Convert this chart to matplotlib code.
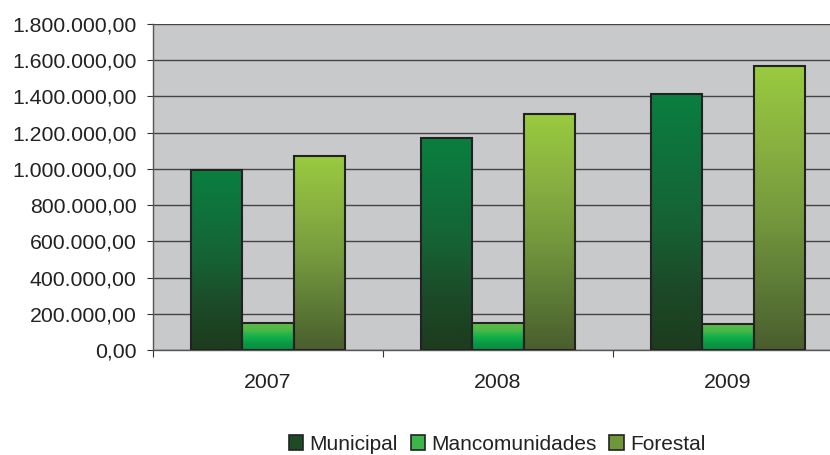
import numpy as np
import matplotlib
matplotlib.use('Agg')
import matplotlib.pyplot as plt
from matplotlib.colors import LinearSegmentedColormap
from matplotlib.patches import Patch

plt.rcParams['font.family'] = ['Liberation Sans', 'DejaVu Sans']

years = ['2007', '2008', '2009']
series = ['Municipal', 'Mancomunidades', 'Forestal']
municipal = [995000, 1170000, 1413000]
mancomunidades = [148000, 147000, 146000]
forestal = [1071000, 1302000, 1568000]
yticks = [0, 200000, 400000, 600000, 800000, 1000000, 1200000, 1400000, 1600000, 1800000]

# gradients top -> bottom
grads = {
    'Municipal': ['#0a7f3f', '#0f713b', '#166235', '#1c4a28', '#1c3c1e'],
    'Mancomunidades': ['#66bb46', '#4db848', '#12b14b', '#0a9a45', '#068a42'],
    'Forestal': ['#99cb3f', '#8ab341', '#779c3e', '#5f7e37', '#4a5e2e'],
}
legend_colors = {'Municipal': '#1e4a26', 'Mancomunidades': '#3cb54a', 'Forestal': '#6f973a'}


def fmt(v):
    s = '{:,.2f}'.format(v)
    return s.replace(',', 'X').replace('.', ',').replace('X', '.')


fig = plt.figure(figsize=(8.3, 4.55), dpi=100)
ax = fig.add_axes([153 / 830, 105 / 455, 690 / 830, 326 / 455])
ax.set_facecolor('#c8c9cb')

x = np.arange(len(years))
w = 0.222
data = [municipal, mancomunidades, forestal]
for i, (name, vals) in enumerate(zip(series, data)):
    cmap = LinearSegmentedColormap.from_list(name, grads[name][::-1])
    bars = ax.bar(x + (i - 1) * w, vals, w, facecolor='none',
                  edgecolor='#222222', linewidth=1.5, zorder=3)
    grad = np.linspace(0, 1, 256).reshape(-1, 1)
    for b in bars:
        bx, by = b.get_x(), b.get_y()
        bw, bh = b.get_width(), b.get_height()
        im = ax.imshow(grad, cmap=cmap, aspect='auto', origin='lower',
                       extent=[bx, bx + bw, by, by + bh], zorder=2,
                       interpolation='bicubic')
        im.set_clip_path(b)

ax.set_xlim(-0.5, 2.5)
ax.set_ylim(0, 1800000)
ax.set_yticks(yticks)
ax.set_yticklabels([fmt(v) for v in yticks])
ax.yaxis.grid(True, color='#444444', linewidth=1.0)
ax.set_axisbelow(True)

ax.set_xticks([-0.5, 0.5, 1.5, 2.5])
ax.set_xticklabels([])
ax.set_xticks(x, minor=True)
ax.set_xticklabels(years, minor=True)
ax.tick_params(axis='x', which='major', length=5, color='#333333', direction='out')
ax.tick_params(axis='x', which='minor', length=0, pad=16.5, labelsize=15.3, labelcolor='#222222')
ax.tick_params(axis='y', length=4, color='#333333', pad=8, labelsize=15.3, labelcolor='#222222')

for s in ['top', 'right']:
    ax.spines[s].set_visible(False)
for s in ['left', 'bottom']:
    ax.spines[s].set_color('#555555')
    ax.spines[s].set_linewidth(1.0)

handles = [Patch(facecolor=legend_colors[n], edgecolor='#222222', linewidth=1.2) for n in series]
fig.legend(handles, series, loc='center', bbox_to_anchor=(0.599, 0.024), ncol=3,
           frameon=False, fontsize=15, handlelength=0.7, handleheight=0.7,
           handletextpad=0.3, columnspacing=0.6, labelcolor='#222222')

fig.savefig('out.png', dpi=100)
